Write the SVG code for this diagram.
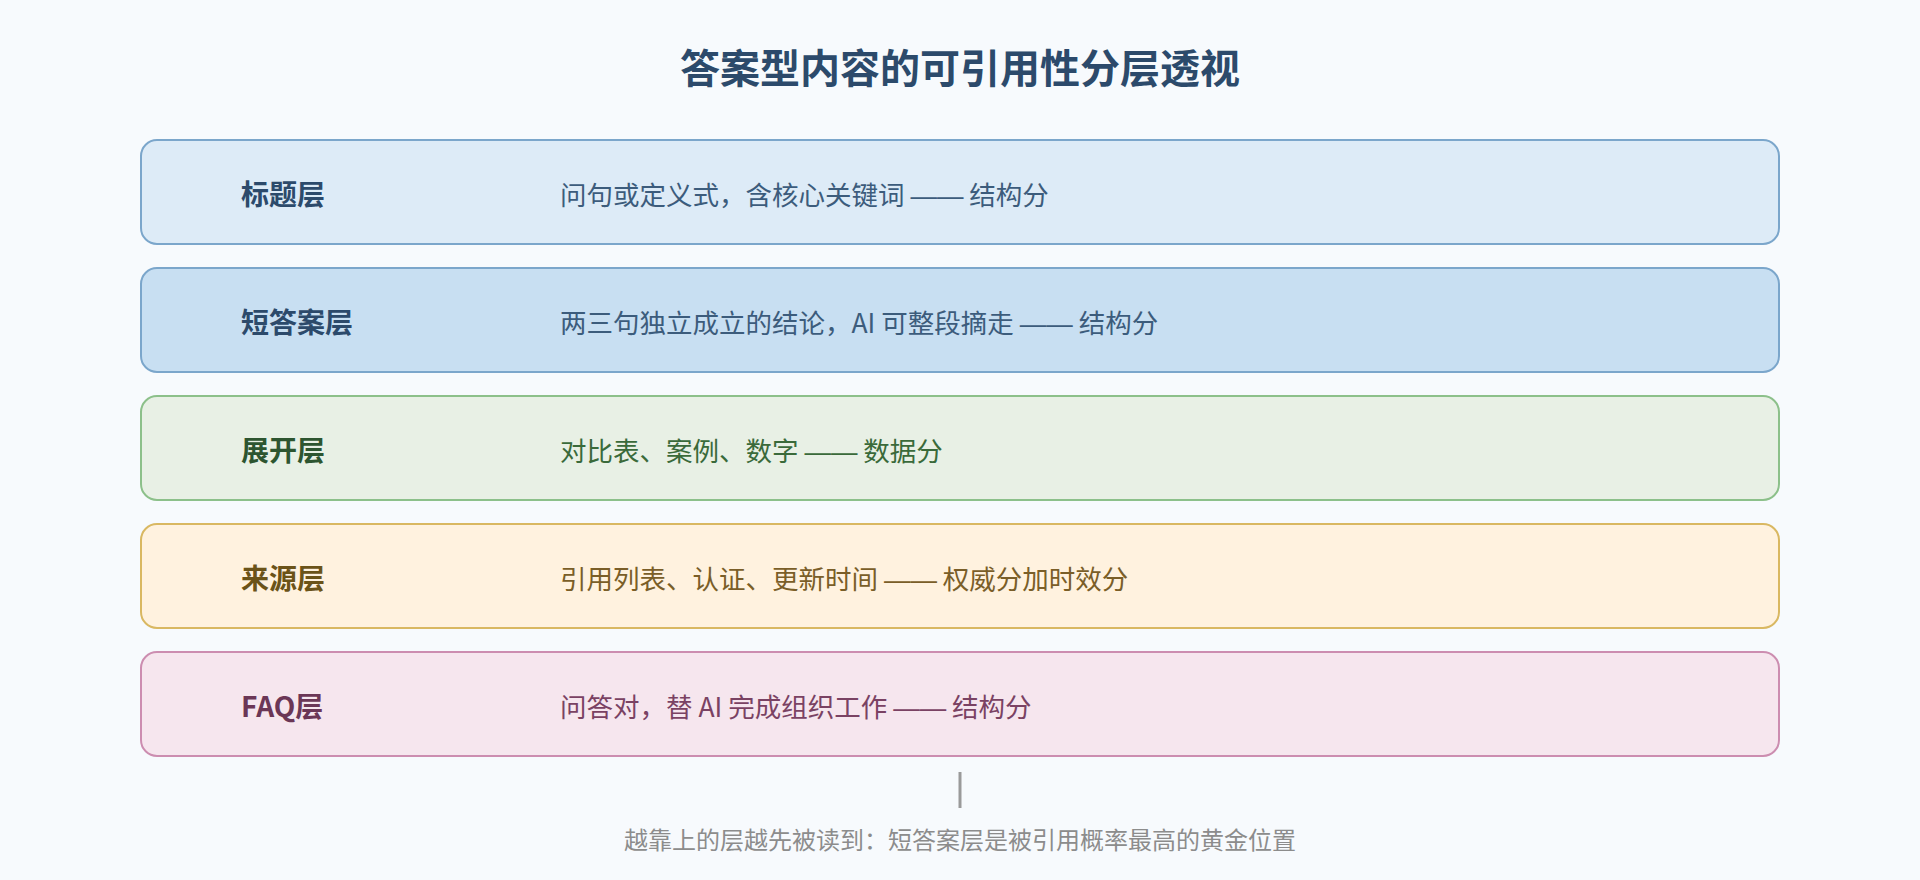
<svg xmlns="http://www.w3.org/2000/svg" width="1920" height="880" viewBox="0 0 1920 880">
  <style>
    text { font-family: "Noto Sans CJK SC", "Noto Sans", sans-serif; }
    .title { font-size: 40px; font-weight: 700; fill: #2c4a6b; }
    .label { font-size: 28px; font-weight: 700; }
    .desc { font-size: 26.5px; font-weight: 400; }
    .dash { font-family: "Liberation Sans", sans-serif; }
    .box { stroke-width: 2; }
    .foot { font-size: 24px; fill: #8c8c8c; }
  </style>
  <rect x="0" y="0" width="1920" height="880" fill="#f7fafd"/>
  <text class="title" x="960" y="83" text-anchor="middle">答案型内容的可引用性分层透视</text>

  <g id="layer-title">
    <rect class="box" x="141" y="140" width="1638" height="104" rx="16" fill="#ddebf7" stroke="#7ba6cb"/>
    <text class="label" x="241" y="205" fill="#2c4a6b">标题层</text>
    <text class="desc" x="560" y="205" fill="#3c5c7c">问句或定义式，含核心关键词 <tspan class="dash">——</tspan> 结构分</text>
  </g>
  <g id="layer-short-answer">
    <rect class="box" x="141" y="268" width="1638" height="104" rx="16" fill="#c8dff2" stroke="#7ba6cb"/>
    <text class="label" x="241" y="333" fill="#2c4a6b">短答案层</text>
    <text class="desc" x="560" y="333" fill="#3c5c7c">两三句独立成立的结论，AI 可整段摘走 <tspan class="dash">——</tspan> 结构分</text>
  </g>
  <g id="layer-expand">
    <rect class="box" x="141" y="396" width="1638" height="104" rx="16" fill="#e8f0e5" stroke="#8cc08a"/>
    <text class="label" x="241" y="461" fill="#2d5530">展开层</text>
    <text class="desc" x="560" y="461" fill="#3a6a3a">对比表、案例、数字 <tspan class="dash">——</tspan> 数据分</text>
  </g>
  <g id="layer-source">
    <rect class="box" x="141" y="524" width="1638" height="104" rx="16" fill="#fff2df" stroke="#d9b862"/>
    <text class="label" x="241" y="589" fill="#6b5318">来源层</text>
    <text class="desc" x="560" y="589" fill="#7a5e28">引用列表、认证、更新时间 <tspan class="dash">——</tspan> 权威分加时效分</text>
  </g>
  <g id="layer-faq">
    <rect class="box" x="141" y="652" width="1638" height="104" rx="16" fill="#f6e6ee" stroke="#cc8db0"/>
    <text class="label" x="241" y="717" fill="#6b3656">FAQ层</text>
    <text class="desc" x="560" y="717" fill="#7a4263">问答对，替 AI 完成组织工作 <tspan class="dash">——</tspan> 结构分</text>
  </g>

  <g id="connectors">
    <line x1="960" y1="772" x2="960" y2="808" stroke="#9a9a9a" stroke-width="3"/>
  </g>
  <text class="foot" x="960" y="849" text-anchor="middle">越靠上的层越先被读到：短答案层是被引用概率最高的黄金位置</text>
</svg>
